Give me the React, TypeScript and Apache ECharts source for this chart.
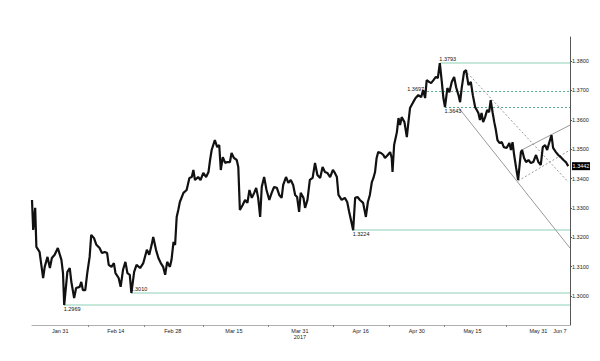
import React, { useEffect, useRef } from "react";
import * as echarts from "echarts";

// Day-of-year 2017 positions and USD/CAD prices
const days = [
  23.7, 24.0, 24.5, 24.8, 25.6, 26.5, 26.9, 27.6, 28.2, 28.7, 29.4, 30.2, 31.1, 31.5, 31.8, 32.6, 33.2, 33.6, 34.3, 34.8,
  35.7, 36.1, 36.5, 37.1, 37.6, 38.2, 38.6, 39.3, 39.9, 40.7, 41.3, 42.0, 42.6, 43.0, 43.7, 44.3, 44.7, 45.5, 46.0, 46.6,
  47.2, 47.7, 48.3, 48.7, 49.4, 50.0, 50.9, 51.7, 52.6, 53.2, 53.8, 54.2, 54.9, 55.5, 56.1, 56.7, 57.2, 57.7, 58.4, 58.8,
  59.3, 59.7, 60.1, 60.5, 60.9, 61.8, 62.6, 63.3, 63.9, 64.3, 64.7, 65.5, 66.1, 66.8, 67.5, 68.1, 68.5, 68.9, 69.7, 70.3,
  70.8, 71.2, 71.7, 72.3, 72.8, 73.5, 73.9, 74.5, 75.2, 75.6, 76.0, 76.7, 77.3, 77.9, 78.4, 79.0, 79.6, 80.1, 80.6, 81.1,
  81.5, 82.1, 82.7, 83.4, 84.0, 84.6, 85.3, 85.9, 86.5, 86.9, 87.6, 88.2, 88.8, 89.4, 89.9, 90.4, 90.9, 91.3, 92.0, 92.4,
  93.0, 93.6, 94.3, 94.9, 95.5, 96.2, 96.8, 97.4, 98.0, 98.7, 99.4, 99.9, 100.4, 100.8, 101.6, 102.4, 103.0, 103.5, 104.1, 104.5,
  105.0, 105.6, 106.2, 107.0, 107.7, 108.2, 108.7, 109.2, 109.6, 110.0, 110.4, 110.8, 111.5, 112.1, 112.5, 113.2, 113.8, 114.2, 114.4, 114.8,
  115.5, 115.9, 116.3, 116.7, 117.4, 118.0, 118.4, 118.8, 119.6, 120.2, 120.9, 121.6, 122.1, 122.6, 123.0, 123.6, 124.1, 124.7, 125.3, 125.8,
  126.3, 126.8, 127.2, 127.6, 128.2, 128.7, 129.3, 129.9, 130.4, 131.0, 131.4, 131.8, 132.4, 132.9, 133.5, 134.1, 134.6, 135.2, 135.6, 136.0,
  136.4, 136.8, 137.2, 137.7, 138.2, 138.7, 139.1, 139.6, 140.0, 140.4, 140.8, 141.3, 141.9, 142.4, 143.1, 143.8, 144.2, 144.6, 145.0, 145.5,
  146.0, 146.3, 146.7, 147.0, 147.5, 148.0, 148.6, 149.2, 149.8, 150.5, 151.1, 151.7, 152.2, 152.8, 153.3, 153.8, 154.4, 154.8, 155.5, 156.1,
  156.7, 157.4, 158.0, 158.6,
];
const prices = [
  1.3327, 1.3225, 1.3300, 1.3167, 1.3150, 1.3061, 1.3099, 1.3133, 1.3095, 1.3129, 1.3140, 1.3163, 1.3123, 1.3078, 1.2969, 1.3082, 1.3095, 1.3048, 1.2993, 1.3027,
  1.3031, 1.3048, 1.3020, 1.3020, 1.3078, 1.3133, 1.3208, 1.3197, 1.3174, 1.3163, 1.3146, 1.3150, 1.3146, 1.3106, 1.3099, 1.3112, 1.3078, 1.3061, 1.3031, 1.3089,
  1.3116, 1.3078, 1.3072, 1.3010, 1.3082, 1.3106, 1.3095, 1.3112, 1.3157, 1.3140, 1.3174, 1.3201, 1.3157, 1.3129, 1.3112, 1.3099, 1.3072, 1.3116, 1.3099, 1.3123,
  1.3184, 1.3174, 1.3269, 1.3293, 1.3320, 1.3351, 1.3361, 1.3402, 1.3405, 1.3429, 1.3395, 1.3405, 1.3395, 1.3419, 1.3405, 1.3422, 1.3463, 1.3497, 1.3531, 1.3507,
  1.3514, 1.3429, 1.3473, 1.3453, 1.3456, 1.3456, 1.3487, 1.3470, 1.3463, 1.3439, 1.3293, 1.3310, 1.3327, 1.3317, 1.3361, 1.3334, 1.3351, 1.3368, 1.3334, 1.3269,
  1.3371, 1.3405, 1.3361, 1.3327, 1.3351, 1.3371, 1.3368, 1.3344, 1.3334, 1.3378, 1.3405, 1.3385, 1.3395, 1.3378, 1.3344, 1.3337, 1.3286, 1.3351, 1.3334, 1.3300,
  1.3327, 1.3395, 1.3402, 1.3453, 1.3412, 1.3402, 1.3439, 1.3422, 1.3419, 1.3405, 1.3429, 1.3419, 1.3405, 1.3344, 1.3327, 1.3334, 1.3320, 1.3286, 1.3249, 1.3224,
  1.3334, 1.3337, 1.3327, 1.3317, 1.3269, 1.3320, 1.3344, 1.3388, 1.3402, 1.3422, 1.3470, 1.3490, 1.3487, 1.3480, 1.3470, 1.3480, 1.3490, 1.3470, 1.3422, 1.3514,
  1.3558, 1.3606, 1.3582, 1.3609, 1.3592, 1.3541, 1.3592, 1.3640, 1.3660, 1.3674, 1.3684, 1.3677, 1.3701, 1.3674, 1.3735, 1.3729, 1.3725, 1.3735, 1.3746, 1.3742,
  1.3793, 1.3729, 1.3674, 1.3643, 1.3708, 1.3694, 1.3729, 1.3746, 1.3711, 1.3684, 1.3660, 1.3708, 1.3763, 1.3769, 1.3718, 1.3729, 1.3684, 1.3643, 1.3633, 1.3623,
  1.3599, 1.3623, 1.3592, 1.3609, 1.3633, 1.3626, 1.3667, 1.3623, 1.3592, 1.3565, 1.3531, 1.3521, 1.3524, 1.3507, 1.3504, 1.3521, 1.3497, 1.3524, 1.3480, 1.3436,
  1.3395, 1.3436, 1.3490, 1.3497, 1.3470, 1.3456, 1.3463, 1.3453, 1.3456, 1.3480, 1.3456, 1.3446, 1.3507, 1.3514, 1.3497, 1.3521, 1.3548, 1.3504, 1.3490, 1.3480,
  1.3473, 1.3463, 1.3456, 1.3442,
];

const xLabelDays = [30.8, 44.8, 59.1, 74.5, 91.1, 106.4, 120.5, 134.5, 151.1, 156.5];
const xLabelTexts = ["Jan 31", "Feb 14", "Feb 28", "Mar 15", "Mar 31\n2017", "Apr 16", "Apr 30", "May 15", "May 31", "Jun 7"];
const xTickDays = [37.8, 51.9, 66.7, 83.1, 99.4, 113.5, 127.4, 143.0];
const yTicks = [1.3, 1.31, 1.32, 1.33, 1.34, 1.35, 1.36, 1.37, 1.38];

// Horizontal levels: value, start day, dashed?, label placement
const levelValues = [1.3793, 1.3697, 1.3643, 1.3224, 1.3010, 1.2969];
const levelStarts = [126.3, 123.1, 127.6, 104.5, 48.6, 31.8];
const levelDashed = [false, true, true, false, false, false];
const levelLabelPos = ["above", "left", "below", "below", "above", "below"];

// Trend lines: [startDay, startValue, endDay, endValue]
const trendSolid = [
  [131.1, 1.3640, 159.05, 1.3163],
  [146.9, 1.3497, 159.05, 1.3582],
];
const trendDashed = [
  [132.6, 1.3769, 158.6, 1.3388],
  [146.0, 1.3392, 159.05, 1.3497],
];
const lastPrice = 1.3442;

const X_MIN = 23.7;
const X_MAX = 159.05;
const FONT = "Liberation Sans, Arial, sans-serif";

export default function App() {
  const ref = useRef<HTMLDivElement>(null);
  useEffect(() => {
    if (!ref.current) return;
    const chart = echarts.init(ref.current, undefined, { renderer: "svg" });
    const seriesData = days.map((d, i) => [d, prices[i]]);

    const levelLines = levelValues.map((v, i) => [
      {
        coord: [levelStarts[i], v],
        lineStyle: {
          color: levelDashed[i] ? "#5aaa8e" : "#b3e0cf",
          width: levelDashed[i] ? 1.2 : 1.5,
          type: levelDashed[i] ? [2, 2] : "solid",
        },
      },
      { coord: [X_MAX, v] },
    ]);
    const trendLines = [
      ...trendSolid.map((t) => [
        { coord: [t[0], t[1]], lineStyle: { color: "#9a9a9a", width: 1, type: "solid" } },
        { coord: [t[2], t[3]] },
      ]),
      ...trendDashed.map((t) => [
        { coord: [t[0], t[1]], lineStyle: { color: "#9a9a9a", width: 1, type: [2, 2] } },
        { coord: [t[2], t[3]] },
      ]),
    ];

    const labelData = levelValues.map((v, i) => {
      const p = levelLabelPos[i];
      const position = p === "above" ? [0, -0.5] : p === "below" ? [0, 1.5] : [-2.5, -1.5];
      return {
        value: [levelStarts[i], v],
        label: {
          show: true,
          formatter: v.toFixed(4),
          position,
          align: p === "left" ? "right" : "left",
          verticalAlign: p === "above" ? "bottom" : p === "below" ? "top" : "middle",
          fontSize: 5.5,
          fontFamily: FONT,
          color: "#111",
          opacity: 1,
        },
      };
    });

    chart.setOption({
      animation: false,
      backgroundColor: "#ffffff",
      grid: { left: 32, right: 30, top: 37, bottom: 36 },
      xAxis: {
        type: "value",
        min: X_MIN,
        max: X_MAX,
        splitLine: { show: false },
        axisLine: { show: true, lineStyle: { color: "#b0b0b0", width: 1 } },
        axisTick: { show: true, customValues: xTickDays, length: 2, lineStyle: { color: "#888" } },
        axisLabel: {
          customValues: xLabelDays,
          formatter: (v: number) => {
            const i = xLabelDays.findIndex((d) => Math.abs(d - v) < 0.05);
            return i >= 0 ? xLabelTexts[i] : "";
          },
          fontSize: 5.5,
          lineHeight: 6,
          fontFamily: FONT,
          color: "#222",
          margin: 3,
        },
      },
      yAxis: {
        type: "value",
        position: "right",
        min: 1.2901,
        max: 1.3882,
        splitLine: { show: false },
        axisLine: { show: true, lineStyle: { color: "#555", width: 1 } },
        axisTick: { show: true, customValues: yTicks, length: 2, lineStyle: { color: "#555" } },
        axisLabel: {
          customValues: yTicks,
          formatter: (v: number) => v.toFixed(4),
          fontSize: 5.5,
          fontFamily: FONT,
          color: "#222",
          margin: 2,
        },
      },
      series: [
        {
          type: "line",
          data: seriesData,
          symbol: "none",
          lineStyle: { color: "#111", width: 2.2 },
          z: 5,
          markLine: {
            silent: true,
            symbol: ["none", "none"],
            label: { show: false },
            data: [...levelLines, ...trendLines],
            z: 3,
          },
          markPoint: {
            silent: true,
            data: [
              {
                coord: [X_MAX, lastPrice],
                symbol: "rect",
                symbolSize: [18, 8],
                symbolOffset: [11, 0],
                itemStyle: { color: "#000" },
                label: {
                  show: true,
                  position: "inside",
                  formatter: lastPrice.toFixed(4),
                  color: "#fff",
                  fontSize: 5.5,
                  fontFamily: FONT,
                },
              },
            ],
          },
        },
        {
          type: "scatter",
          data: labelData,
          symbolSize: 1,
          itemStyle: { color: "rgba(0,0,0,0)" },
          silent: true,
          z: 10,
        },
      ],
    });
    return () => chart.dispose();
  }, []);
  return (
    <div
      ref={ref}
      style={{ position: "fixed", left: 0, top: 0, width: 600, height: 361, background: "#fff" }}
    />
  );
}
